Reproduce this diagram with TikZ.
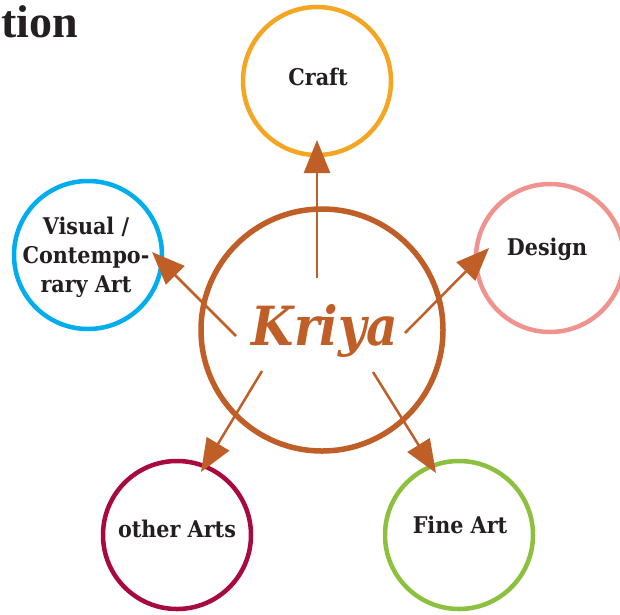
\documentclass[tikz,border=0pt]{standalone}
\usepackage{fontspec}
\setmainfont{DejaVu Serif Condensed}
\newfontfamily\titlefont{Liberation Serif}
\usetikzlibrary{arrows.meta}
\definecolor{rust}{HTML}{C05E27}
\definecolor{craftc}{HTML}{F4A623}
\definecolor{designc}{HTML}{F0928E}
\definecolor{visualc}{HTML}{00AEEF}
\definecolor{otherc}{HTML}{A8093F}
\definecolor{finec}{HTML}{8DC03F}
\definecolor{ink}{HTML}{231F20}
\tikzset{
  leaf/.style={circle, draw=#1, line width=4.5pt, minimum size=148pt, inner sep=0pt},
  hub/.style={circle, draw=rust, line width=5.5pt, minimum size=242pt, inner sep=0pt},
  lbl/.style={text=ink, font=\bfseries\fontsize{23}{29}\selectfont, align=center, inner sep=0pt},
  link/.style={draw=rust, line width=2.5pt, -{Triangle[length=33pt,width=26pt]}}
}
\begin{document}
\begin{tikzpicture}[x=1pt,y=-1pt]
\useasboundingbox (0,0) rectangle (620,614);
\fill[white] (0,0) rectangle (620,614);
% title fragment
\node[anchor=base west, inner sep=0pt, text=ink, font=\titlefont\bfseries\fontsize{46}{50}\selectfont] (title) at (1,37) {tion};
% circles
\node[hub] (kriya) at (322,330) {};
\node[leaf=craftc] (craft) at (317,81) {};
\node[leaf=designc] (design) at (550,258) {};
\node[leaf=visualc] (visual) at (88,255) {};
\node[leaf=otherc] (other) at (177,535) {};
\node[leaf=finec] (fine) at (459,535) {};
% labels
\node[text=rust, inner sep=0pt, anchor=base, font=\bfseries\itshape\fontsize{54}{56}\selectfont] (kriyalbl) at (325,345) {Kriya};
\node[lbl, anchor=base] (craftlbl) at (318,85) {Craft};
\node[lbl, anchor=base] (designlbl) at (547,255) {Design};
\node[lbl, anchor=base] (visuallbl) at (86,292) {Visual /\\Contempo-\\rary Art};
\node[lbl, anchor=base] (otherlbl) at (177,537) {other Arts};
\node[lbl, anchor=base] (finelbl) at (460,533) {Fine Art};
% arrow end points
\coordinate (craft-from) at (317,278);
\coordinate (craft-to) at (317,140);
\coordinate (design-from) at (405,333);
\coordinate (design-to) at (489,248);
\coordinate (visual-from) at (236,336);
\coordinate (visual-to) at (152,252);
\coordinate (other-from) at (262,371);
\coordinate (other-to) at (201,472);
\coordinate (fine-from) at (373,372);
\coordinate (fine-to) at (436,473);
% connectors
\draw[link] (craft-from) -- (craft-to);
\draw[link] (design-from) -- (design-to);
\draw[link] (visual-from) -- (visual-to);
\draw[link] (other-from) -- (other-to);
\draw[link] (fine-from) -- (fine-to);
\end{tikzpicture}
\end{document}
